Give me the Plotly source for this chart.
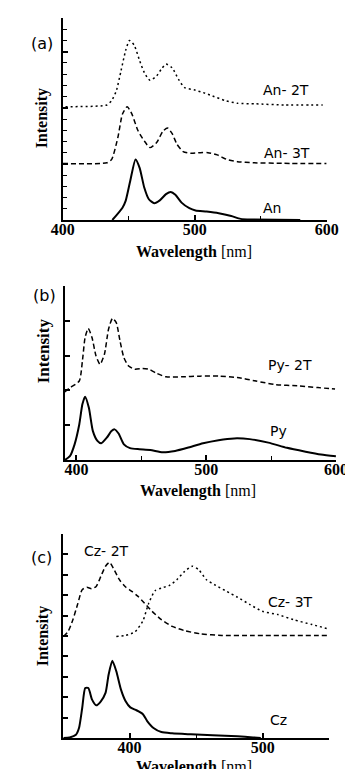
import plotly.graph_objects as go

W, H = 353, 769

# ---------------- data ----------------
# Panel (a)
an_x = [437.5, 445.2, 447.6, 451.1, 455.1, 458.2, 461.7, 465.2, 469.3, 473.5, 478.2, 481.8, 485.3,
        490.0, 495.9, 500.6, 509.0, 518.2, 527.7, 534.8, 544.0, 580.0]
an_y = [0.0, 0.22, 0.34, 0.70, 1.08, 0.93, 0.58, 0.37, 0.30, 0.35, 0.46, 0.50, 0.45,
        0.31, 0.21, 0.17, 0.15, 0.12, 0.07, 0.02, 0.01, 0.0]

an3t_x = [400, 433.4, 437.0, 441.7, 445.2, 448.8, 452.3, 457.0, 461.7, 466.0, 471.1, 475.8, 479.4,
          482.9, 486.5, 491.2, 497.1, 504.1, 510.0, 517.1, 524.2, 532.4, 544.2, 567.7, 600]
an3t_y = [1.006, 1.02, 1.08, 1.47, 1.89, 2.02, 1.89, 1.59, 1.41, 1.29, 1.38, 1.58, 1.64,
          1.54, 1.35, 1.22, 1.19, 1.20, 1.20, 1.16, 1.08, 1.04, 1.02, 1.01, 1.006]

an2t_x = [402, 433.4, 437.0, 440.5, 444.1, 447.6, 450.5, 454.2, 458.2, 461.7, 466.0, 471.1, 474.7,
          478.2, 482.9, 487.6, 492.3, 499.4, 506.4, 513.5, 522.9, 532.4, 546.5, 567.7, 597]
an2t_y = [2.02, 2.05, 2.13, 2.30, 2.66, 3.02, 3.20, 3.11, 2.84, 2.63, 2.49, 2.57, 2.69,
          2.78, 2.71, 2.51, 2.36, 2.32, 2.27, 2.21, 2.13, 2.08, 2.07, 2.05, 2.05]

# Panel (b)
py_x = [391, 395.0, 398.6, 402.2, 404.6, 406.7, 409.6, 412.7, 416.2, 419.1, 423.4, 427.0, 429.4,
        432.5, 436.6, 441.3, 448.5, 456.9, 466.5, 476.1, 485.6, 497.6, 509.5, 521.5, 533.5,
        547.9, 562.2, 576.6, 588.5, 600]
py_y = [0.0, 0.11, 0.45, 1.02, 1.60, 1.82, 1.50, 0.83, 0.55, 0.48, 0.64, 0.83, 0.88,
        0.76, 0.45, 0.34, 0.31, 0.29, 0.22, 0.26, 0.35, 0.48, 0.57, 0.62, 0.60,
        0.50, 0.35, 0.24, 0.16, 0.11]

py2t_x = [391, 395.2, 402.2, 404.6, 406.7, 409.1, 412.0, 415.1, 418.2, 421.6, 424.7, 427.8, 430.7,
          433.6, 436.6, 440.2, 445.0, 451.0, 455.8, 461.8, 469.0, 481.0, 495.3, 509.5, 523.9,
          538.3, 552.6, 571.7, 586.1, 599.3]
py2t_y = [1.96, 2.08, 2.27, 2.84, 3.52, 3.78, 3.52, 2.99, 2.75, 3.04, 3.75, 4.07, 3.95,
          3.42, 2.94, 2.70, 2.61, 2.63, 2.61, 2.49, 2.39, 2.39, 2.41, 2.41, 2.37,
          2.27, 2.17, 2.13, 2.08, 2.04]

# Panel (c)
cz_x = [350.5, 355.1, 359.8, 362.1, 364.5, 366.8, 369.1, 371.9, 375.0, 378.5, 382.0, 384.3, 387.1,
        390.1, 393.6, 397.1, 400.6, 405.2, 409.9, 413.4, 418.0, 423.9, 432.0, 446.0, 462.4,
        481.0, 492.7, 498.5]
cz_y = [0.0, 0.03, 0.16, 0.49, 1.47, 2.45, 2.45, 1.88, 1.60, 1.80, 2.21, 3.10, 3.79,
        3.27, 2.37, 1.80, 1.50, 1.36, 1.18, 0.82, 0.49, 0.29, 0.23, 0.18, 0.13,
        0.08, 0.03, 0.0]

cz2t_x = [350.5, 354.0, 357.5, 361.0, 364.5, 368.0, 371.5, 375.0, 378.5, 382.0, 385.0, 387.8, 392.4,
          397.1, 401.7, 406.4, 411.1, 416.9, 423.9, 432.0, 441.4, 453.0, 469.4, 492.7, 549.8]
cz2t_y = [4.98, 5.23, 5.80, 6.54, 7.27, 7.39, 7.32, 7.43, 7.92, 8.42, 8.61, 8.33, 7.76,
          7.40, 7.19, 6.94, 6.62, 6.21, 5.80, 5.47, 5.26, 5.11, 5.03, 5.02, 5.02]

cz3t_x = [390.1, 397.1, 404.0, 409.9, 414.5, 419.2, 423.9, 429.7, 435.5, 441.4, 447.2, 451.9, 457.7,
          464.7, 472.9, 481.0, 490.4, 499.7, 511.3, 523.0, 537.0, 549.8]
cz3t_y = [4.98, 5.03, 5.20, 5.72, 6.62, 7.22, 7.35, 7.47, 7.76, 8.17, 8.42, 8.25, 7.76,
          7.48, 7.19, 6.90, 6.54, 6.21, 6.05, 5.80, 5.56, 5.34]

x_ticks_a = [400, 500, 600]
x_ticks_b = [400, 500, 600]
x_ticks_c = [400, 500]

# ---------------- helpers ----------------
def px(x):
    return x / W

def py(y):
    return 1 - y / H

SERIF = "Liberation Serif"
SANS = "DejaVu Sans"

fig = go.Figure()

def add_line(x, y, ax, dash, width):
    fig.add_trace(go.Scatter(
        x=x, y=y, mode="lines", xaxis="x" + ax, yaxis="y" + ax,
        line=dict(color="black", width=width, dash=dash, shape="spline", smoothing=0.6),
        showlegend=False, hoverinfo="skip"))

DOT = "2px,3px"
DASH = "5px,3px"

add_line(an2t_x, an2t_y, "", DOT, 1.5)
add_line(an3t_x, an3t_y, "", DASH, 1.5)
add_line(an_x, an_y, "", "solid", 2)
add_line(py2t_x, py2t_y, "2", DASH, 1.5)
add_line(py_x, py_y, "2", "solid", 2)
add_line(cz2t_x, cz2t_y, "3", DASH, 1.5)
add_line(cz3t_x, cz3t_y, "3", DOT, 1.5)
add_line(cz_x, cz_y, "3", "solid", 2)

def xaxis(left, right, rng, tickvals, anchor):
    return dict(domain=[px(left), px(right)], anchor=anchor, range=rng,
                showgrid=False, zeroline=False, showline=True, linecolor="black", linewidth=2,
                ticks="inside", ticklen=5, tickwidth=1.5, tickcolor="black",
                tickvals=tickvals, ticktext=[str(t) for t in tickvals],
                ticklabelstandoff=-6,
                tickfont=dict(family=SERIF, size=16, color="black", weight="bold"),
                minor=dict(ticks="inside", ticklen=4, tickwidth=1.2, tickcolor="black", dtick=50,
                           tick0=0),
                fixedrange=True)

def yaxis(top, bottom, rng, dtick, minor, anchor):
    d = dict(domain=[py(bottom), py(top)], anchor=anchor, range=rng,
             showgrid=False, zeroline=False, showline=True, linecolor="black", linewidth=2,
             ticks="inside", ticklen=5, tickwidth=1.5, tickcolor="black",
             dtick=dtick, tick0=0, showticklabels=False, fixedrange=True)
    if minor:
        d["minor"] = dict(ticks="inside", ticklen=4, tickwidth=1.2, tickcolor="black",
                          dtick=minor, tick0=0)
    return d

fig.update_layout(
    width=W, height=H, margin=dict(l=0, r=0, t=0, b=0),
    paper_bgcolor="white", plot_bgcolor="white",
    xaxis=xaxis(46, 329, [400, 600], x_ticks_a, "y"),
    yaxis=yaxis(10, 212, [0, 3.6], 1, 0.2, "x"),
    xaxis2=xaxis(48, 339, [391, 600], x_ticks_b, "y2"),
    yaxis2=yaxis(278, 452, [0, 5], 1, None, "x2"),
    xaxis3=xaxis(46, 332, [350, 550], x_ticks_c, "y3"),
    yaxis3=yaxis(526, 730, [0, 10], 1, None, "x3"),
)

def label(text, x, y, size=14, family=SANS, angle=0):
    fig.add_annotation(text=text, x=px(x), y=py(y), xref="paper", yref="paper",
                       showarrow=False, xanchor="center", yanchor="middle", textangle=angle,
                       font=dict(family=family, size=size, color="black"))

# panel (a)
label("(a)", 24, 35, 16)
label("An- 2T", 285, 82)
label("An- 3T", 286, 145)
label("An", 270, 200)
label("<b>Wavelength</b> [nm]", 187, 244, 16, SERIF)
label("<b>Intensity</b>", 24, 110, 16, SERIF, -90)

# panel (b)
label("(b)", 26, 287, 16)
label("Py- 2T", 290, 357)
label("Py", 277, 423)
label("<b>Wavelength</b> [nm]", 191, 483, 16, SERIF)
label("<b>Intensity</b>", 25, 343, 17, SERIF, -90)

# panel (c)
label("(c)", 23, 549, 16)
label("Cz- 2T", 93, 543)
label("Cz- 3T", 290, 594)
label("Cz", 277, 712)
label("<b>Wavelength</b> [nm]", 187, 759, 16, SERIF)
label("<b>Intensity</b>", 25, 628, 16, SERIF, -90)

fig.write_html("out.html")
